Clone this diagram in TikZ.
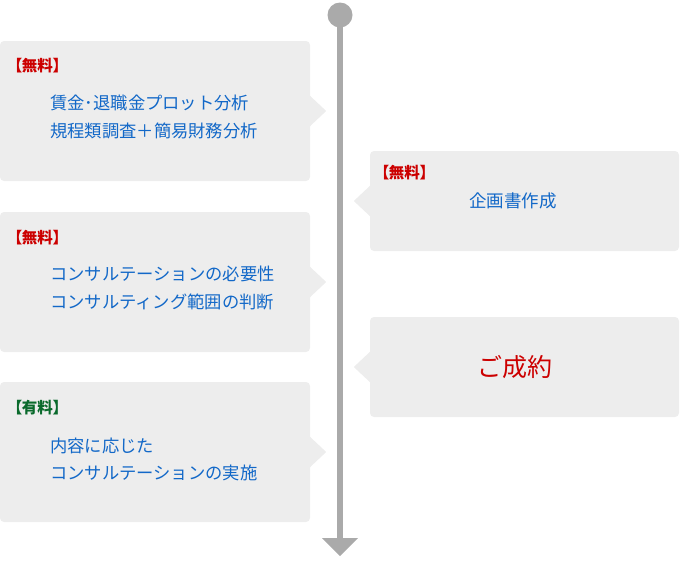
\documentclass[tikz,border=0pt]{standalone}
\usepackage{fontspec}
\setmainfont{Noto Sans CJK JP}
\newfontfamily\tagfont[RawFeature=+palt]{Noto Sans CJK JP}
\usetikzlibrary{calc}
\definecolor{boxfill}{HTML}{EDEDED}
\definecolor{txtblue}{HTML}{1268C8}
\definecolor{txtred}{HTML}{CC0000}
\definecolor{txtgreen}{HTML}{0A6A2C}
\definecolor{linegray}{HTML}{AAAAAA}
\begin{document}
\begin{tikzpicture}[x=1pt,y=-1pt,
  stepbox/.style={fill=boxfill,rounded corners=4pt,inner sep=0pt,draw=none},
  lbox/.style={stepbox,minimum width=310pt,minimum height=140pt},
  rbox/.style={stepbox,minimum width=309pt,minimum height=100pt},
  tagtxt/.style={anchor=west,inner sep=0pt,font=\tagfont\bfseries\fontsize{15.5pt}{18pt}\selectfont},
  bodytxt/.style={anchor=west,inner sep=0pt,text=txtblue,font=\fontsize{17.3pt}{20pt}\selectfont},
  ptr/.style={fill=boxfill,draw=none}]
\useasboundingbox (0,0) rectangle (680,560);
% timeline
\coordinate (ltop) at (340,15);
\coordinate (lbot) at (340,539);
\draw[linegray,line width=6pt] (ltop) -- (lbot);
\node[circle,fill=linegray,minimum size=25pt,inner sep=0pt] (dot) at (ltop) {};
\coordinate (ah1) at (322,538);
\coordinate (ah2) at (358,538);
\coordinate (ah3) at (340,556);
\fill[linegray] (ah1) -- (ah2) -- (ah3) -- cycle;
% left boxes
\node[lbox] (b1) at (155,111) {};
\fill[ptr] ($(b1.east)+(-1,-16)$) -- ($(b1.east)+(16,0)$) -- ($(b1.east)+(-1,16)$) -- cycle;
\node[tagtxt,text=txtred] (t1) at (14,66) {【無料】};
\node[bodytxt] (l1a) at (50,103) {賃金･退職金プロット分析};
\node[bodytxt] (l1b) at (50,131) {規程類調査＋簡易財務分析};

\node[lbox] (b2) at (155,282) {};
\fill[ptr] ($(b2.east)+(-1,-16)$) -- ($(b2.east)+(16,0)$) -- ($(b2.east)+(-1,16)$) -- cycle;
\node[tagtxt,text=txtred] (t2) at (14,238) {【無料】};
\node[bodytxt] (l2a) at (50,274) {コンサルテーションの必要性};
\node[bodytxt] (l2b) at (50,302) {コンサルティング範囲の判断};

\node[lbox] (b3) at (155,452) {};
\fill[ptr] ($(b3.east)+(-1,-16)$) -- ($(b3.east)+(16,0)$) -- ($(b3.east)+(-1,16)$) -- cycle;
\node[tagtxt,text=txtgreen] (t3) at (14,408) {【有料】};
\node[bodytxt] (l3a) at (50,446) {内容に応じた};
\node[bodytxt] (l3b) at (50,473) {コンサルテーションの実施};
% right boxes
\node[rbox] (r1) at (524.5,201) {};
\fill[ptr] ($(r1.west)+(1,-16)$) -- ($(r1.west)+(-16,0)$) -- ($(r1.west)+(1,16)$) -- cycle;
\node[tagtxt,text=txtred] (t4) at (381,173) {【無料】};
\node[inner sep=0pt,text=txtblue,font=\fontsize{17.5pt}{20pt}\selectfont] (r1t) at (513,201) {企画書作成};

\node[rbox] (r2) at (524.5,367) {};
\fill[ptr] ($(r2.west)+(1,-16)$) -- ($(r2.west)+(-16,0)$) -- ($(r2.west)+(1,16)$) -- cycle;
\node[inner sep=0pt,text=txtred,font=\fontsize{25pt}{28pt}\selectfont] (r2t) at (515,367) {ご成約};
\end{tikzpicture}
\end{document}
